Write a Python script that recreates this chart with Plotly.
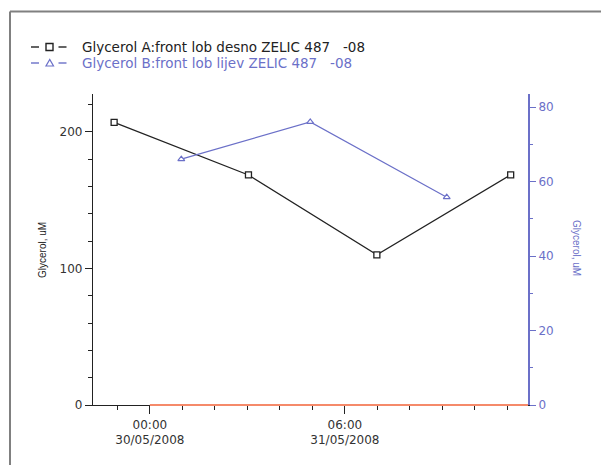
import plotly.graph_objects as go

# ---- data ----
times_a = ["2008-05-29 22:54", "2008-05-30 03:02", "2008-05-30 06:59", "2008-05-30 11:06"]
glycerol_a = [207, 168.5, 110, 168.5]
times_b = ["2008-05-30 00:58", "2008-05-30 04:56", "2008-05-30 09:08"]
glycerol_b = [66, 76, 55.8]
name_a = "Glycerol A:front lob desno ZELIC 487\u00a0\u00a0\u00a0-08"
name_b = "Glycerol B:front lob lijev ZELIC 487\u00a0\u00a0\u00a0-08"
x_tickvals = ["2008-05-30 00:00", "2008-05-30 06:00"]
x_ticktext = ["00:00<br>30/05/2008", "06:00<br>31/05/2008"]
x_range = ["2008-05-29 22:15", "2008-05-30 11:38"]
orange_start = "2008-05-30 00:00"

BLACK = "#222222"
BLUE = "#6b70c8"
ORANGE = "#f58a6a"
FONT = "DejaVu Sans, Verdana, sans-serif"
ARIAL = "Arial, Liberation Sans, sans-serif"

# page places the figure 8px in from the top-left; plot area target: x 93..528, y 94..405
W, H = 601, 457
L, T = 85, 86
PW, PH = 435, 311


def px(xp):
    return (xp - 8 - L) / PW


def py(yp):
    return (T + PH - (yp - 8)) / PH


fig = go.Figure()
fig.add_trace(go.Scatter(
    x=times_a, y=glycerol_a, mode="lines+markers", name=name_a,
    line=dict(color=BLACK, width=1.3),
    marker=dict(symbol="square", size=6, color="white", line=dict(width=1.3, color=BLACK)),
    yaxis="y", showlegend=False))
fig.add_trace(go.Scatter(
    x=times_b, y=glycerol_b, mode="lines+markers", name=name_b,
    line=dict(color=BLUE, width=1.2),
    marker=dict(symbol="triangle-up", size=6, color="white", line=dict(width=1.2, color=BLUE)),
    yaxis="y2", showlegend=False))

fig.update_layout(
    width=W, height=H,
    margin=dict(l=L, r=W - L - PW, t=T, b=H - T - PH),
    paper_bgcolor="white", plot_bgcolor="white",
    font=dict(family=FONT, size=12, color=BLACK),
    showlegend=False,
    xaxis=dict(type="date", range=x_range, tickmode="array",
               tickvals=x_tickvals, ticktext=x_ticktext,
               showgrid=False, zeroline=False, showline=True,
               linecolor=BLACK, linewidth=1.3,
               ticks="outside", ticklen=8, tickcolor=BLACK, tickwidth=1.3,
               tickfont=dict(size=12, color="#333333"),
               minor=dict(dtick=3600000, tick0="2008-05-30 00:00",
                          ticks="outside", ticklen=4, tickcolor=BLACK, showgrid=False)),
    yaxis=dict(range=[0, 227.8], tickvals=[0, 100, 200],
               showgrid=False, zeroline=False, showline=True,
               linecolor=BLACK, linewidth=1.3,
               ticks="outside", ticklen=7, tickcolor=BLACK, tickwidth=1.3,
               tickfont=dict(size=12, color="#333333"),
               minor=dict(dtick=20, ticks="outside", ticklen=4, tickcolor=BLACK, showgrid=False)),
    yaxis2=dict(range=[0, 83.5], tickvals=[0, 20, 40, 60, 80],
                overlaying="y", side="right",
                showgrid=False, zeroline=False, showline=True,
                linecolor=BLUE, linewidth=2,
                ticks="outside", ticklen=6, tickcolor=BLUE, tickwidth=1.3,
                tickfont=dict(size=12, color=BLUE),
                minor=dict(dtick=10, ticks="outside", ticklen=3, tickcolor=BLUE, showgrid=False)),
)

# orange segment along the time axis
fig.add_shape(type="line", xref="x", yref="paper", x0=orange_start, x1=x_range[1],
              y0=0, y1=0, line=dict(color=ORANGE, width=2.2), layer="above")

# frame lines (top and left) of the panel
fig.add_shape(type="line", xref="paper", yref="paper", x0=px(10), x1=px(620),
              y0=py(11.5), y1=py(11.5), line=dict(color="#808080", width=2))
fig.add_shape(type="line", xref="paper", yref="paper", x0=px(10), x1=px(10),
              y0=py(11.5), y1=py(470), line=dict(color="#808080", width=2))

# legend (drawn by hand: "— □ —  name")
for row_y, name, color, symbol in [(47, name_a, BLACK, "square"), (63, name_b, BLUE, "triangle")]:
    for x0, x1 in [(31, 39), (58.5, 66.5)]:
        fig.add_shape(type="line", xref="paper", yref="paper",
                      x0=px(x0), x1=px(x1), y0=py(row_y), y1=py(row_y),
                      line=dict(color=color, width=1.4))
    if symbol == "square":
        fig.add_shape(type="rect", xref="paper", yref="paper",
                      x0=px(46), x1=px(53), y0=py(row_y + 3.5), y1=py(row_y - 3.5),
                      line=dict(color=color, width=1.4), fillcolor="white")
    else:
        path = (f"M {px(46)} {py(row_y + 3)} L {px(53.5)} {py(row_y + 3)} "
                f"L {px(49.75)} {py(row_y - 3.5)} Z")
        fig.add_shape(type="path", xref="paper", yref="paper", path=path,
                      line=dict(color=color, width=1.2), fillcolor="white")
    fig.add_annotation(text=name, xref="paper", yref="paper", x=px(80), y=py(row_y),
                       xanchor="left", yanchor="middle", showarrow=False,
                       font=dict(size=13.5, color=color, family=FONT))

# axis titles
fig.add_annotation(text="Glycerol, uM", xref="paper", yref="paper",
                   x=px(42), y=py(250), textangle=-90, xanchor="center", yanchor="middle",
                   showarrow=False, font=dict(size=10, color=BLACK, family=ARIAL))
fig.add_annotation(text="Glycerol, uM", xref="paper", yref="paper",
                   x=px(577), y=py(248), textangle=90, xanchor="center", yanchor="middle",
                   showarrow=False, font=dict(size=10, color=BLUE, family=ARIAL))

fig.write_html("out.html")
